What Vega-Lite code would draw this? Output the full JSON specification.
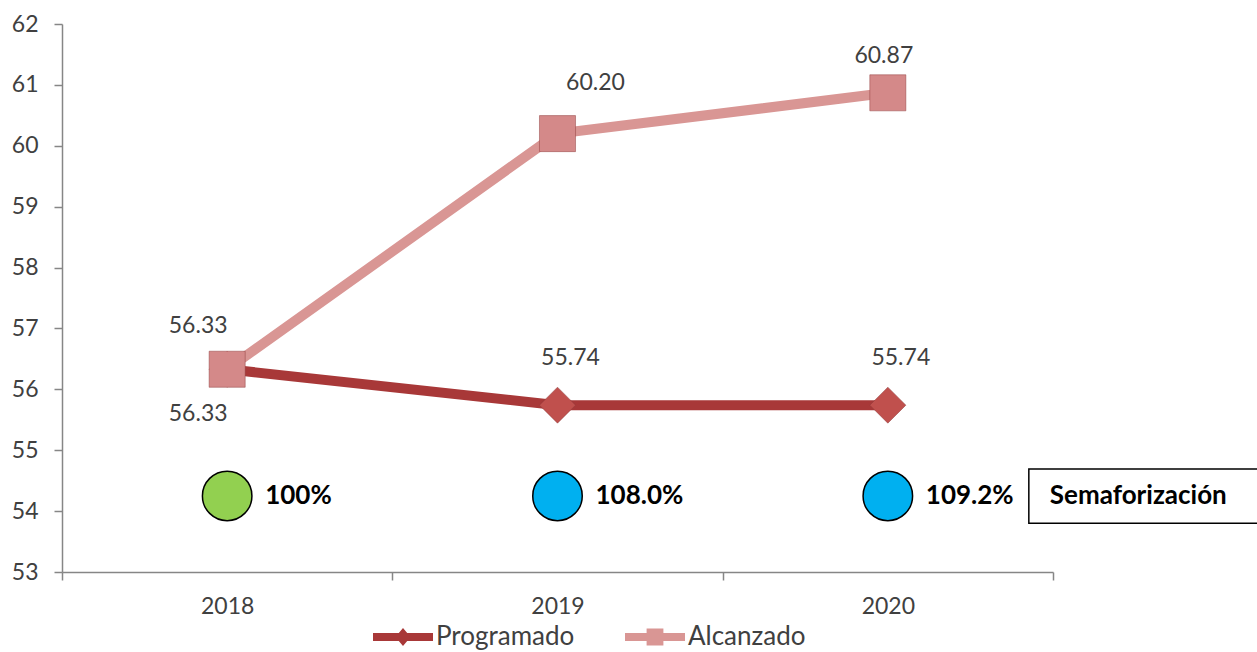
{
  "$schema": "https://vega.github.io/schema/vega-lite/v6.json",
  "width": 991,
  "height": 548,
  "autosize": {"type": "none"},
  "padding": {"left": 62, "top": 24, "right": 204, "bottom": 80},
  "background": "white",
  "config": {"view": {"stroke": null}, "font": "Lato"},
  "datasets": {
    "series": [
      {"year": "2018", "serie": "Programado", "valor": 56.33},
      {"year": "2019", "serie": "Programado", "valor": 55.74},
      {"year": "2020", "serie": "Programado", "valor": 55.74},
      {"year": "2018", "serie": "Alcanzado", "valor": 56.33},
      {"year": "2019", "serie": "Alcanzado", "valor": 60.20},
      {"year": "2020", "serie": "Alcanzado", "valor": 60.87}
    ],
    "semaforo": [
      {"year": "2018", "nivel": 54.25, "cumplimiento": "100%", "estado": "verde"},
      {"year": "2019", "nivel": 54.25, "cumplimiento": "108.0%", "estado": "azul"},
      {"year": "2020", "nivel": 54.25, "cumplimiento": "109.2%", "estado": "azul"}
    ],
    "nota": [
      {"year": "2020", "titulo": "Semaforización"}
    ]
  },
  "encoding": {
    "x": {
      "field": "year", "type": "ordinal",
      "scale": {"type": "band", "domain": ["2018", "2019", "2020"], "paddingInner": 0, "paddingOuter": 0},
      "axis": {"title": null, "labelAngle": 0, "tickBand": "extent", "domainColor": "#868686", "tickColor": "#868686", "domainWidth": 1.5, "tickWidth": 1.5, "tickSize": 8, "labelFontSize": 23, "labelColor": "#404040", "labelPadding": 15, "labelFont": "Lato"}
    }
  },
  "resolve": {"scale": {"color": "independent", "shape": "independent", "fill": "independent"}},
  "layer": [
    {
      "data": {"name": "series"},
      "mark": {"type": "line", "strokeWidth": 10, "strokeCap": "butt"},
      "encoding": {
        "y": {"field": "valor", "type": "quantitative", "scale": {"domain": [53, 62], "nice": false, "zero": false},
          "axis": {"title": null, "values": [53, 54, 55, 56, 57, 58, 59, 60, 61, 62], "format": "d", "grid": false, "domainColor": "#868686", "tickColor": "#868686", "domainWidth": 1.5, "tickWidth": 1.5, "tickSize": 8, "labelFontSize": 23, "labelColor": "#404040", "labelPadding": 16, "labelFont": "Lato"}},
        "color": {"field": "serie", "type": "nominal", "scale": {"domain": ["Programado", "Alcanzado"], "range": ["#A83838", "#D99694"]}, "legend": null},
        "order": {"field": "serie", "sort": "descending"}
      }
    },
    {
      "data": {"name": "series"},
      "mark": {"type": "point", "filled": true, "opacity": 1, "size": 1300, "stroke": "#8E3A3A", "strokeWidth": 0.8, "strokeOpacity": 0.6},
      "encoding": {
        "y": {"field": "valor", "type": "quantitative"},
        "shape": {"field": "serie", "type": "nominal", "scale": {"domain": ["Programado", "Alcanzado"], "range": ["diamond", "square"]}, "legend": null},
        "fill": {"field": "serie", "type": "nominal", "scale": {"domain": ["Programado", "Alcanzado"], "range": ["#C0504D", "#D48989"]}, "legend": null}
      }
    },
    {
      "data": {"name": "series"},
      "transform": [{"filter": "datum.serie == 'Programado' && datum.year == '2018'"}],
      "mark": {"type": "text", "fontSize": 23, "color": "#404040", "dx": -29, "dy": 45},
      "encoding": {"y": {"field": "valor", "type": "quantitative"}, "text": {"field": "valor", "type": "quantitative", "format": ".2f"}}
    },
    {
      "data": {"name": "series"},
      "transform": [{"filter": "datum.serie == 'Programado' && datum.year != '2018'"}],
      "mark": {"type": "text", "fontSize": 23, "color": "#404040", "dx": 13, "dy": -47},
      "encoding": {"y": {"field": "valor", "type": "quantitative"}, "text": {"field": "valor", "type": "quantitative", "format": ".2f"}}
    },
    {
      "data": {"name": "series"},
      "transform": [{"filter": "datum.serie == 'Alcanzado' && datum.year == '2018'"}],
      "mark": {"type": "text", "fontSize": 23, "color": "#404040", "dx": -29, "dy": -43},
      "encoding": {"y": {"field": "valor", "type": "quantitative"}, "text": {"field": "valor", "type": "quantitative", "format": ".2f"}}
    },
    {
      "data": {"name": "series"},
      "transform": [{"filter": "datum.serie == 'Alcanzado' && datum.year == '2019'"}],
      "mark": {"type": "text", "fontSize": 23, "color": "#404040", "dx": 38, "dy": -51},
      "encoding": {"y": {"field": "valor", "type": "quantitative"}, "text": {"field": "valor", "type": "quantitative", "format": ".2f"}}
    },
    {
      "data": {"name": "series"},
      "transform": [{"filter": "datum.serie == 'Alcanzado' && datum.year == '2020'"}],
      "mark": {"type": "text", "fontSize": 23, "color": "#404040", "dx": -4, "dy": -37},
      "encoding": {"y": {"field": "valor", "type": "quantitative"}, "text": {"field": "valor", "type": "quantitative", "format": ".2f"}}
    },
    {
      "data": {"name": "semaforo"},
      "mark": {"type": "point", "shape": "circle", "filled": true, "size": 2450, "stroke": "black", "strokeWidth": 1.5, "opacity": 1},
      "encoding": {
        "y": {"field": "nivel", "type": "quantitative"},
        "fill": {"field": "estado", "type": "nominal", "scale": {"domain": ["verde", "azul"], "range": ["#92D050", "#00B0F0"]}, "legend": null}
      }
    },
    {
      "data": {"name": "semaforo"},
      "mark": {"type": "text", "align": "left", "dx": 38, "fontSize": 26, "fontWeight": "bold", "color": "black"},
      "encoding": {
        "y": {"field": "nivel", "type": "quantitative"},
        "text": {"field": "cumplimiento", "type": "nominal"}
      }
    },
    {
      "data": {"name": "nota"},
      "mark": {"type": "bar", "width": 240, "xOffset": 261, "fill": "white", "stroke": "black", "strokeWidth": 1.5},
      "encoding": {
        "y": {"datum": 54.69, "type": "quantitative"},
        "y2": {"datum": 53.80}
      }
    },
    {
      "data": {"name": "nota"},
      "mark": {"type": "text", "align": "left", "dx": 162, "fontSize": 26, "fontWeight": "bold", "color": "black"},
      "encoding": {
        "y": {"datum": 54.25, "type": "quantitative"},
        "text": {"field": "titulo", "type": "nominal"}
      }
    },
    {
      "data": {"name": "series"},
      "mark": {"type": "point", "filled": true, "size": 0},
      "encoding": {
        "y": {"field": "valor", "type": "quantitative"},
        "shape": {"field": "serie", "type": "nominal",
          "scale": {"domain": ["Programado", "Alcanzado"], "range": [
            "M-1,-0.13 L-0.14,-0.13 L0,-0.3 L0.14,-0.13 L1,-0.13 L1,0.13 L0.14,0.13 L0,0.3 L-0.14,0.13 L-1,0.13 Z",
            "M-1,-0.13 L-0.28,-0.13 L-0.28,-0.28 L0.28,-0.28 L0.28,-0.13 L1,-0.13 L1,0.13 L0.28,0.13 L0.28,0.28 L-0.28,0.28 L-0.28,0.13 L-1,0.13 Z"]},
          "legend": {"title": null, "orient": "none", "legendX": 311, "legendY": 583, "direction": "horizontal", "labelFontSize": 26, "labelColor": "#404040", "labelFont": "Lato", "symbolSize": 3600, "symbolOpacity": 1, "columnPadding": 50, "labelOffset": 3, "symbolStrokeWidth": 0, "encode": {"symbols": {"update": {"opacity": {"value": 1}}}}}},
        "color": {"field": "serie", "type": "nominal",
          "scale": {"domain": ["Programado", "Alcanzado"], "range": ["#A83838", "#D99694"]},
          "legend": {"title": null, "orient": "none", "legendX": 311, "legendY": 583, "direction": "horizontal", "labelFontSize": 26, "labelColor": "#404040", "labelFont": "Lato", "symbolSize": 3600, "symbolOpacity": 1, "columnPadding": 50, "labelOffset": 3, "symbolStrokeWidth": 0, "encode": {"symbols": {"update": {"opacity": {"value": 1}}}}}}
      }
    }
  ]
}
